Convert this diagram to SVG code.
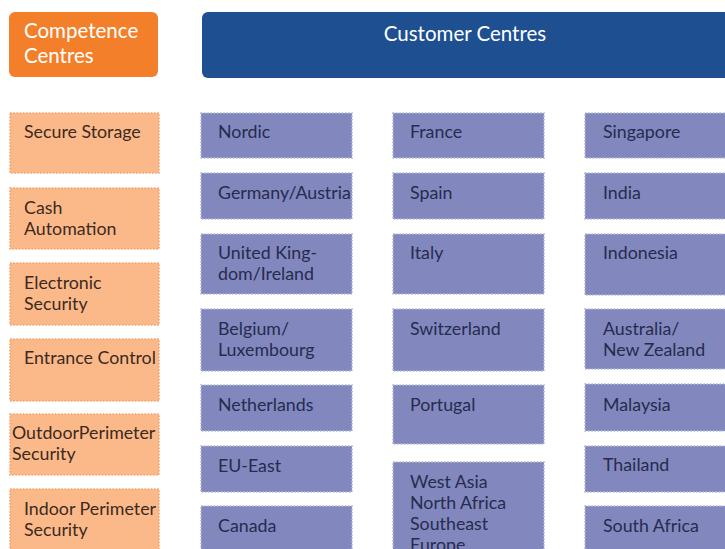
<svg xmlns="http://www.w3.org/2000/svg" width="725" height="549" viewBox="0 0 725 549">
<style>
text{font-family:Lato,"Open Sans","Liberation Sans",sans-serif;}
.hdr{fill:#fff;font-size:20.5px;}
.o rect{fill:#FBB98A;stroke:#F4A46E;stroke-width:1.6;stroke-dasharray:1.6 1.6;}
.b rect{fill:#8288BD;stroke:#B3B7DA;stroke-width:1.6;stroke-dasharray:1.6 1.6;}
.o text{fill:#3B2A1E;font-size:17.8px;}
.b text{fill:#262B4F;font-size:17.8px;}
</style>
<rect width="725" height="549" fill="#fff"/>
<g id="hdr-competence">
<rect x="9" y="12" width="149" height="65" rx="6" fill="#F47F2A"/>
<text class="hdr" x="24" y="38">Competence</text>
<text class="hdr" x="24" y="63">Centres</text>
</g>
<g id="hdr-customer">
<rect x="202" y="12" width="540" height="66" rx="6" fill="#1D4F91"/>
<text class="hdr" x="465" y="41" text-anchor="middle">Customer Centres</text>
</g>
<g id="secure-storage" class="o"><rect x="10" y="113" width="149" height="60"/><text x="24" y="138">Secure Storage</text></g>
<g id="cash-automation" class="o"><rect x="10" y="188" width="149" height="61"/><text x="24" y="214">Cash</text><text x="24" y="235">Automation</text></g>
<g id="electronic-security" class="o"><rect x="10" y="263" width="149" height="62"/><text x="24" y="289">Electronic</text><text x="24" y="310">Security</text></g>
<g id="entrance-control" class="o"><rect x="10" y="339" width="149" height="62"/><text x="24" y="364">Entrance Control</text></g>
<g id="outdoor-perimeter" class="o"><rect x="10" y="414" width="149" height="61"/><text x="12" y="439">OutdoorPerimeter</text><text x="12" y="460">Security</text></g>
<g id="indoor-perimeter" class="o"><rect x="10" y="489" width="149" height="70"/><text x="24" y="515">Indoor Perimeter</text><text x="24" y="536">Security</text></g>

<g id="nordic" class="b"><rect x="201" y="113" width="151" height="45"/><text x="218" y="138">Nordic</text></g>
<g id="germany-austria" class="b"><rect x="201" y="173" width="151" height="46"/><text x="218" y="199">Germany/Austria</text></g>
<g id="uk-ireland" class="b"><rect x="201" y="234" width="151" height="60"/><text x="218" y="259">United King-</text><text x="218" y="280">dom/Ireland</text></g>
<g id="belgium-luxembourg" class="b"><rect x="201" y="309" width="151" height="62"/><text x="218" y="335">Belgium/</text><text x="218" y="356">Luxembourg</text></g>
<g id="netherlands" class="b"><rect x="201" y="385" width="151" height="46"/><text x="218" y="411">Netherlands</text></g>
<g id="eu-east" class="b"><rect x="201" y="446" width="151" height="46"/><text x="218" y="472">EU-East</text></g>
<g id="canada" class="b"><rect x="201" y="506" width="151" height="60"/><text x="218" y="532">Canada</text></g>

<g id="france" class="b"><rect x="393" y="113" width="151" height="45"/><text x="410" y="138">France</text></g>
<g id="spain" class="b"><rect x="393" y="173" width="151" height="46"/><text x="410" y="199">Spain</text></g>
<g id="italy" class="b"><rect x="393" y="234" width="151" height="60"/><text x="410" y="259">Italy</text></g>
<g id="switzerland" class="b"><rect x="393" y="309" width="151" height="62"/><text x="410" y="335">Switzerland</text></g>
<g id="portugal" class="b"><rect x="393" y="385" width="151" height="59"/><text x="410" y="411">Portugal</text></g>
<g id="west-asia" class="b"><rect x="393" y="462" width="151" height="100"/><text x="410" y="488">West Asia</text><text x="410" y="509">North Africa</text><text x="410" y="530">Southeast</text><text x="410" y="551">Europe</text></g>

<g id="singapore" class="b"><rect x="585" y="113" width="150" height="45"/><text x="603" y="138">Singapore</text></g>
<g id="india" class="b"><rect x="585" y="173" width="150" height="46"/><text x="603" y="199">India</text></g>
<g id="indonesia" class="b"><rect x="585" y="234" width="150" height="61"/><text x="603" y="259">Indonesia</text></g>
<g id="australia-nz" class="b"><rect x="585" y="309" width="150" height="60"/><text x="603" y="335">Australia/</text><text x="603" y="356">New Zealand</text></g>
<g id="malaysia" class="b"><rect x="585" y="384" width="150" height="47"/><text x="603" y="411">Malaysia</text></g>
<g id="thailand" class="b"><rect x="585" y="446" width="150" height="46"/><text x="603" y="471">Thailand</text></g>
<g id="south-africa" class="b"><rect x="585" y="506" width="150" height="60"/><text x="603" y="532">South Africa</text></g>
<g id="connectors"></g>
</svg>
